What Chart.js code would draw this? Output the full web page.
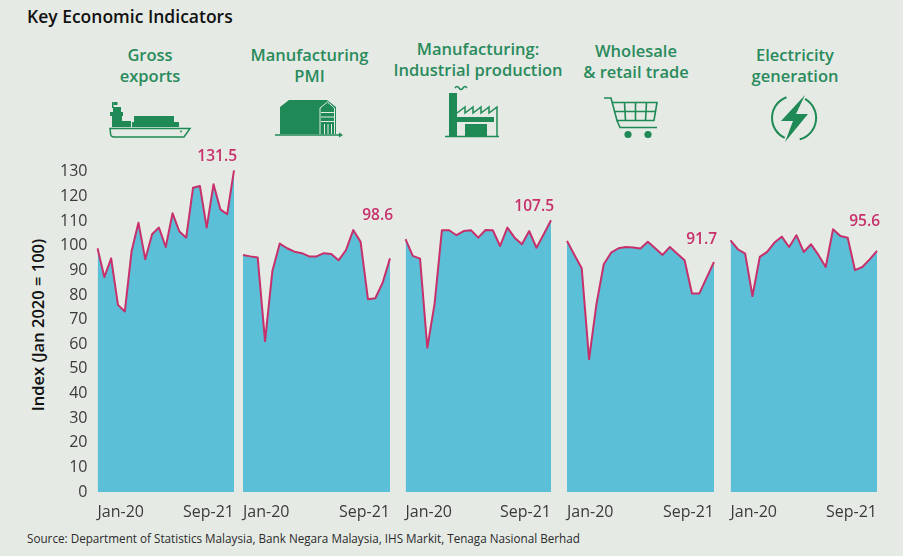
<!DOCTYPE html>
<html><head><meta charset="utf-8">
<script src="https://cdn.jsdelivr.net/npm/chart.js@4.4.1/dist/chart.umd.min.js"></script>
<style>
html,body{margin:0;padding:0;background:#e5eae5;}
body{width:903px;height:556px;position:relative;overflow:hidden;font-family:"Open Sans",sans-serif;}
.t{position:absolute;white-space:nowrap;}
#title{left:27px;top:4px;font-size:17.5px;font-weight:600;color:#111;}
.hd{position:absolute;transform:translateX(-50%);text-align:center;color:#2a8a5c;font-weight:600;font-size:16.5px;line-height:20.5px;white-space:nowrap;}
canvas{position:absolute;}
#ytitle{position:absolute;left:37px;top:325px;transform:translate(-50%,-50%) rotate(-90deg);font-size:16.5px;font-weight:600;color:#111;white-space:nowrap;}
#src{left:27px;top:530px;font-size:11.7px;color:#2b2b2b;}
svg{position:absolute;left:0;top:0;}
</style></head><body>
<svg width="903" height="556" viewBox="0 0 903 556">
 <g fill="#1f8a55">
  <rect x="112" y="102" width="1.5" height="6"/>
  <rect x="113.5" y="102" width="4" height="3"/>
  <rect x="113" y="107" width="8" height="5"/>
  <rect x="110" y="112" width="13" height="4"/>
  <rect x="112" y="116" width="10" height="11"/>
  <rect x="122" y="121" width="9" height="6"/>
  <rect x="134" y="116" width="40" height="6"/>
  <rect x="132" y="122" width="47" height="5"/>
 </g>
 <path d="M110 128.5 H190 L184 137 H114 Q110.5 137 110.5 133 Z" fill="none" stroke="#1f8a55" stroke-width="1.5"/>
 <circle cx="181" cy="131.5" r="0.9" fill="#1f8a55"/>

 <path d="M280 107 L289 100 H327 L336 107 V134 H280 Z" fill="#1f8a55"/>
 <g stroke="#e5eae5" stroke-width="1" fill="none">
  <path d="M320 134 V108 L327.5 102 L334.5 108 V134"/>
  <line x1="321" y1="112.5" x2="334" y2="112.5"/>
  <line x1="321" y1="117" x2="334" y2="117"/>
  <line x1="321" y1="121.5" x2="334" y2="121.5"/>
  <line x1="324.5" y1="124" x2="324.5" y2="134"/>
  <line x1="328" y1="124" x2="328" y2="134"/>
  <line x1="331.5" y1="124" x2="331.5" y2="134"/>
 </g>
 <path d="M275 135 H341" stroke="#1f8a55" stroke-width="1.5"/>
 <path d="M339 132.5 L343 135 L339 137.5 Z" fill="#1f8a55"/>

 <g fill="#1f8a55">
  <rect x="449" y="93" width="8" height="43"/>
  <rect x="457" y="117" width="37" height="5"/>
  <rect x="465" y="124" width="22" height="12"/>
 </g>
 <g stroke="#1f8a55" fill="none" stroke-width="1.5">
  <path d="M455 88 q2 -3 4 0 t4 0 t4 0"/>
  <path d="M457 113 L465 107 V113 L473 107 V113 L481 107 V113 L489 107 V113 L497 107 V136.5"/>
  <line x1="445" y1="136.5" x2="499" y2="136.5"/>
 </g>

 <g stroke="#1f8a55" fill="none" stroke-width="1.6">
  <path d="M604 98 H611 L617 120.5 H654 L657 102.5 H612.5"/>
  <line x1="624.5" y1="102.5" x2="625.5" y2="120.5"/>
  <line x1="635.5" y1="102.5" x2="635.5" y2="120.5"/>
  <line x1="646.5" y1="102.5" x2="645.5" y2="120.5"/>
  <line x1="614.5" y1="111.5" x2="655.5" y2="111.5"/>
  <path d="M617 120.5 L620 127.5 H657"/>
 </g>
 <circle cx="628" cy="134.5" r="3.6" fill="#1f8a55"/>
 <circle cx="648" cy="134.5" r="3.6" fill="#1f8a55"/>

 <g stroke="#1f8a55" fill="none" stroke-width="2">
  <path d="M786.5 97.3 A22 22 0 0 0 784.7 137.9"/>
  <path d="M805 98.9 A22 22 0 0 1 799.7 139.3"/>
 </g>
 <path d="M805 95 L781 121 H793 L785 142 L808 114 H796 Z" fill="#1f8a55"/>
</svg>

<div class="t" id="title">Key Economic Indicators</div>
<div class="hd" style="left:150px;top:45px;">Gross<br>exports</div>
<div class="hd" style="left:309.5px;top:45px;">Manufacturing<br>PMI</div>
<div class="hd" style="left:478px;top:39px;">Manufacturing:<br>Industrial production</div>
<div class="hd" style="left:636px;top:41px;">Wholesale<br>&amp; retail trade</div>
<div class="hd" style="left:795px;top:45px;">Electricity<br>generation</div>
<div id="ytitle">Index (Jan 2020 = 100)</div>
<div class="t" id="src">Source: Department of Statistics Malaysia, Bank Negara Malaysia, IHS Markit, Tenaga Nasional Berhad</div>

<script>
// ---- data ----
const months = ['Jan-20','Feb-20','Mar-20','Apr-20','May-20','Jun-20','Jul-20','Aug-20','Sep-20','Oct-20','Nov-20','Dec-20',
                'Jan-21','Feb-21','Mar-21','Apr-21','May-21','Jun-21','Jul-21','Aug-21','Sep-21'];
const grossExports = [99.0, 87.3, 94.9, 76.0, 73.3, 97.9, 109.4, 94.5, 104.7, 107.4, 99.5, 113.2, 105.8, 103.3, 123.6, 124.3, 107.4, 125.0, 114.8, 112.8, 130.6];
const manufacturingPMI = [96.3, 95.7, 95.2, 61.3, 89.8, 100.9, 99.0, 97.6, 97.0, 95.7, 95.7, 97.0, 96.7, 94.1, 98.2, 106.4, 101.6, 78.3, 78.7, 85.0, 94.9];
const industrialProduction = [102.7, 95.9, 94.8, 58.6, 76.5, 106.3, 106.3, 104.3, 106.0, 106.3, 103.3, 106.4, 106.3, 99.9, 107.4, 103.3, 100.6, 106.0, 99.2, 104.7, 110.4];
const retailTrade = [102.0, 96.4, 90.9, 53.9, 76.2, 92.5, 97.2, 99.0, 99.5, 99.3, 98.9, 101.6, 99.0, 96.3, 99.5, 96.8, 94.1, 80.6, 80.6, 87.1, 93.4];
const electricityGeneration = [102.2, 98.6, 96.8, 79.6, 95.5, 97.5, 101.3, 103.7, 99.5, 104.3, 97.5, 100.6, 96.3, 91.4, 106.7, 104.0, 103.3, 90.1, 91.4, 94.5, 97.9];
const endLabels = ['131.5', '98.6', '107.5', '91.7', '95.6'];
const yMaxTick = 130;

const seriesList = [grossExports, manufacturingPMI, industrialProduction, retailTrade, electricityGeneration];

// ---- layout (pixels) ----
const panels = [
  {areaLeft: 97.5, areaRight: 234},
  {areaLeft: 243, areaRight: 390},
  {areaLeft: 405.5, areaRight: 551},
  {areaLeft: 567, areaRight: 714},
  {areaLeft: 730.5, areaRight: 877}
];
const canvasTop = 121, areaTop = 135, areaBottom = 492, xAxisH = 40;

Chart.defaults.font.family = '"Open Sans", sans-serif';

const endLabelPlugin = {
  id: 'endLabel',
  afterDatasetsDraw(chart, args, opts) {
    const pts = chart.getDatasetMeta(0).data;
    const n = pts.length;
    const topY = Math.min(...pts.slice(n - 6).map(p => p.y));
    const ctx = chart.ctx;
    ctx.save();
    ctx.font = '600 15.5px "Open Sans", sans-serif';
    ctx.fillStyle = '#c7306b';
    ctx.textAlign = 'right';
    ctx.textBaseline = 'middle';
    ctx.fillText(opts.text, pts[n - 1].x + 3, topY - 14);
    ctx.restore();
  }
};

panels.forEach((p, i) => {
  const first = i === 0;
  const cLeft = first ? 0 : Math.floor(p.areaLeft) - 5;
  const cRight = Math.ceil(p.areaRight) + 6;
  const width = cRight - cLeft;
  const height = areaBottom - canvasTop + xAxisH;
  const cv = document.createElement('canvas');
  cv.width = width; cv.height = height;
  cv.style.left = cLeft + 'px'; cv.style.top = canvasTop + 'px';
  cv.style.width = width + 'px'; cv.style.height = height + 'px';
  document.body.appendChild(cv);
  const padLeft = first ? 0 : p.areaLeft - cLeft;
  const padRight = cRight - p.areaRight;

  new Chart(cv, {
    type: 'line',
    data: {
      labels: months,
      datasets: [{
        data: seriesList[i],
        borderColor: '#c7306b',
        borderWidth: 2,
        backgroundColor: '#5bbfd7',
        fill: 'origin',
        pointRadius: 0,
        tension: 0,
        borderJoinStyle: 'round'
      }]
    },
    options: {
      responsive: false,
      animation: false,
      events: [],
      layout: {autoPadding: false, padding: {left: padLeft, right: padRight, top: areaTop - canvasTop, bottom: 0}},
      plugins: {legend: {display: false}, tooltip: {enabled: false}, endLabel: {text: endLabels[i]}},
      scales: {
        x: {
          grid: {display: false, drawTicks: false},
          border: {display: false},
          afterFit(s) { s.height = xAxisH; s.paddingLeft = 0; s.paddingRight = 0; },
          ticks: {
            autoSkip: false, maxRotation: 0, align: 'inner', padding: 11,
            color: '#3a3a3a', font: {size: 16},
            callback(v, idx) { return (idx === 0 || idx === months.length - 1) ? months[idx] : ''; }
          }
        },
        y: {
          display: first,
          min: 0, max: 145,
          grid: {display: false, drawTicks: false},
          border: {display: false},
          afterFit(s) { if (first) s.width = p.areaLeft; s.paddingTop = 0; s.paddingBottom = 0; },
          afterBuildTicks(s) { s.ticks = s.ticks.filter(t => t.value <= yMaxTick); },
          ticks: {stepSize: 10, padding: 10, color: '#3a3a3a', font: {size: 16}}
        }
      }
    },
    plugins: [endLabelPlugin]
  });
});
</script>
</body></html>
